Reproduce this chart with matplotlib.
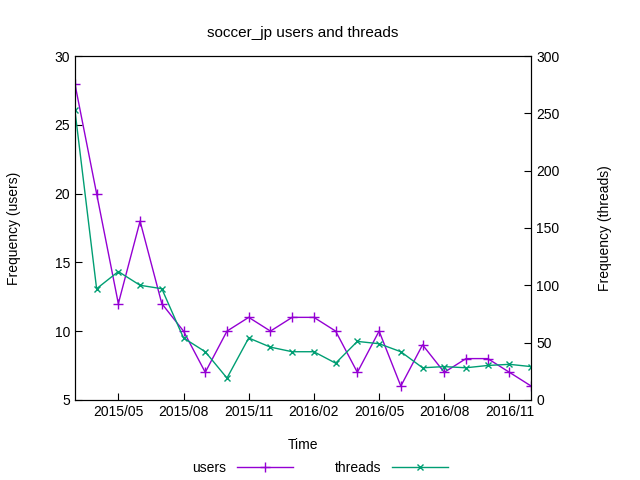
import numpy as np
import matplotlib.pyplot as plt

months = np.arange(22)  # 2015/03 .. 2016/12
users = [28, 20, 12, 18, 12, 10, 7, 10, 11, 10, 11, 11, 10, 7, 10, 6, 9, 7, 8, 8, 7, 6]
threads = [253, 97, 112, 100, 97, 54, 42, 19, 54, 46, 42, 42, 32, 51, 49, 42, 28, 29, 28, 30, 31, 29]
tick_pos = [2, 5, 8, 11, 14, 17, 20]
tick_lab = ['2015/05', '2015/08', '2015/11', '2016/02', '2016/05', '2016/08', '2016/11']

plt.rcParams['font.family'] = 'Liberation Sans'
plt.rcParams['font.size'] = 10
fig = plt.figure(figsize=(6.4, 4.8), dpi=100)
ax = fig.add_axes([0.117, 0.167, 0.713, 0.716])
ax2 = ax.twinx()
l1, = ax.plot(months, users, color='#9400d3', marker='+', ms=7, lw=1, label='users')
l2, = ax2.plot(months, threads, color='#009e73', marker='x', ms=5, lw=1, label='threads')
ax.set_xlim(0, 21)
ax.set_ylim(5, 30)
ax2.set_ylim(0, 300)
ax.set_xticks(tick_pos)
ax.set_xticklabels(tick_lab)
ax.set_yticks(range(5, 31, 5))
ax2.set_yticks(range(0, 301, 50))
for a in (ax, ax2):
    a.tick_params(direction='in', length=5)
ax.set_xlabel('Time', labelpad=14)
ax.set_ylabel('Frequency (users)', labelpad=24)
ax2.set_ylabel('Frequency (threads)', labelpad=28)
ax.set_title('soccer_jp users and threads', fontsize=11, pad=14)
fig.legend(handles=[l1, l2], loc='lower center', ncol=2, frameon=False,
           bbox_to_anchor=(0.5, -0.015), markerfirst=False, handlelength=4, columnspacing=3)
fig.savefig('out.png')
